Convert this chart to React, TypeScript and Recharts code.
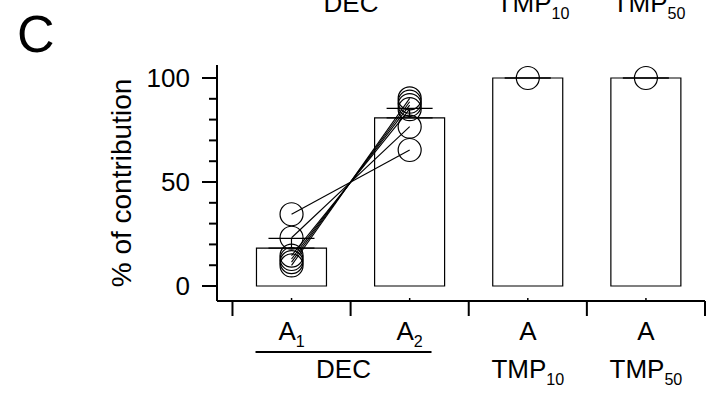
import React from 'react';
import { ComposedChart, Bar, Scatter, XAxis, YAxis, ErrorBar } from 'recharts';

const FONT = '"Liberation Sans", Arial, Helvetica, sans-serif';

// categories (x = category centre on a numeric axis, boundaries carry the tick marks)
const catX = [0.5, 1.5, 2.5, 3.5];
const catName = ['A', 'A', 'A', 'A'];
const catSub = ['1', '2', '', ''];
const boundaries = [0, 1, 2, 3, 4];

// group labels under the categories
const groupX = [0.94, 2.5, 3.5];
const groupName = ['DEC', 'TMP', 'TMP'];
const groupSub = ['', '10', '50'];
const groupSpan = [2, 1, 1];

// bar means and SEM (% of contribution)
const means = [18.2, 80.8, 100, 100];
const sems = [4.7, 4.6, 0, 0];

// individual subjects, A1 paired with A2
const a1Values = [34.5, 23.2, 14.6, 13.0, 11.5, 9.9];
const a2Values = [65.4, 76.6, 85.0, 87.0, 88.6, 90.2];
const tmpValues = [100, 100];

const yTicks = [0, 10, 20, 30, 40, 50, 60, 70, 80, 90, 100];
const yLabelled = [0, 50, 100];

// clipped labels of the panel above
const topName = ['DEC', 'TMP', 'TMP'];
const topSub = ['', '10', '50'];

const barData = catX.map((x, i) => ({ x, y: means[i], err: [0, sems[i]] }));
const subjects = a1Values.map((v, i) => [
  { x: catX[0], y: v },
  { x: catX[1], y: a2Values[i] },
]);
const tmpPoints = tmpValues.map((v, i) => ({ x: catX[2 + i], y: v }));
const xTicks = [...boundaries, ...catX, ...groupX]
  .filter((v, i, a) => a.indexOf(v) === i)
  .sort((a, b) => a - b);

function SubText({ x, y, main, sub, size = 26 }: any) {
  return (
    <text x={x} y={y} textAnchor="middle" fontFamily={FONT} fontSize={size} fill="#000">
      {main}
      {sub ? (
        <tspan fontSize={size * 0.62} dy={size * 0.27}>
          {sub}
        </tspan>
      ) : null}
    </text>
  );
}

function XTick({ x, y, payload }: any) {
  const v = payload.value;
  const bi = boundaries.indexOf(v);
  const ci = catX.indexOf(v);
  const gi = groupX.indexOf(v);
  return (
    <g>
      {bi >= 0 && <line x1={x} y1={y} x2={x} y2={y + 15} stroke="#000" strokeWidth={2} />}
      {ci >= 0 && <line x1={x} y1={y - 3} x2={x} y2={y} stroke="#000" strokeWidth={1.5} />}
      {ci >= 0 && <SubText x={x} y={y + 39} main={catName[ci]} sub={catSub[ci]} />}
      {gi >= 0 && groupSpan[gi] > 1 && (
        <line x1={x - 88} y1={y + 51} x2={x + 88} y2={y + 51} stroke="#000" strokeWidth={2} />
      )}
      {gi >= 0 && <SubText x={x} y={y + 77} main={groupName[gi]} sub={groupSub[gi]} />}
    </g>
  );
}

function YTick({ x, y, payload }: any) {
  const v = payload.value;
  const major = yLabelled.includes(v);
  return (
    <g>
      <line x1={x - (major ? 15 : 8)} y1={y} x2={x} y2={y} stroke="#000" strokeWidth={2} />
      {major && (
        <text x={x - 27} y={y} dy="0.35em" textAnchor="end" fontFamily={FONT} fontSize={26} fill="#000">
          {v}
        </text>
      )}
    </g>
  );
}

const Ring = (p: any) => (
  <circle cx={p.cx} cy={p.cy} r={11.5} fill="none" stroke="#000" strokeWidth={1.2} />
);

export default function App() {
  return (
    <div style={{ position: 'absolute', left: 0, top: 0, width: 720, height: 398, background: '#fff' }}>
      <ComposedChart
        width={720}
        height={398}
        data={barData}
        margin={{ top: 65, right: 15, bottom: 0, left: 157 }}
      >
        <XAxis
          type="number"
          dataKey="x"
          domain={[-0.131, 4]}
          allowDataOverflow
          ticks={xTicks}
          interval={0}
          tickSize={0}
          tickMargin={0}
          tickLine={false}
          axisLine={{ stroke: '#000', strokeWidth: 2 }}
          height={97}
          tick={<XTick />}
        />
        <YAxis
          type="number"
          dataKey="y"
          domain={[-7.2, 106.25]}
          allowDataOverflow
          ticks={yTicks}
          interval={0}
          tickSize={0}
          tickMargin={0}
          tickLine={false}
          axisLine={{ stroke: '#000', strokeWidth: 2 }}
          width={60}
          tick={<YTick />}
        />
        <Bar dataKey="y" barSize={70} fill="#fff" stroke="#000" strokeWidth={1.2} isAnimationActive={false}>
          <ErrorBar dataKey="err" direction="y" width={23} stroke="#000" strokeWidth={1.2} />
        </Bar>
        {subjects.map((d, i) => (
          <Scatter
            key={i}
            data={d}
            dataKey="y"
            line={{ stroke: '#000', strokeWidth: 1.1 }}
            shape={Ring}
            isAnimationActive={false}
          />
        ))}
        <Scatter data={tmpPoints} dataKey="y" shape={Ring} isAnimationActive={false} />
      </ComposedChart>
      <svg
        width={720}
        height={398}
        style={{ position: 'absolute', left: 0, top: 0, pointerEvents: 'none' }}
      >
        <text x={17} y={52} fontFamily={FONT} fontSize={52} fill="#000">C</text>
        <text
          transform="translate(131,183) rotate(-90)"
          textAnchor="middle"
          fontFamily={FONT}
          fontSize={28}
          fill="#000"
        >
          % of contribution
        </text>
        {topName.map((n, i) => (
          <SubText key={i} x={[351, 533, 649][i]} y={12} main={n} sub={topSub[i]} />
        ))}
      </svg>
    </div>
  );
}
